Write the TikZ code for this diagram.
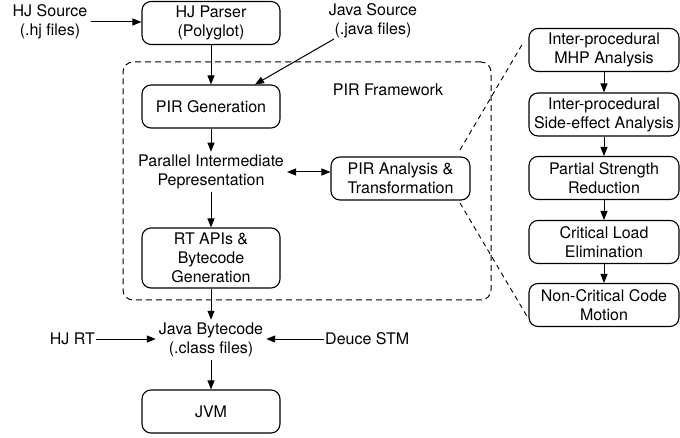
\documentclass[tikz,border=0pt]{standalone}
\usepackage{fontspec}
\setmainfont{TeX Gyre Heros}
\usetikzlibrary{arrows.meta}
\begin{document}
\begin{tikzpicture}[x=1pt,y=-1pt,
  every node/.style={font=\fontsize{16}{19}\selectfont, align=center, inner sep=3pt},
  box/.style={draw, line width=1.1pt, rounded corners=9pt, minimum width=138pt, minimum height=43pt, inner sep=2pt},
  rbox/.style={box, minimum width=150pt},
  arr/.style={-{Triangle[length=9pt,width=7pt]}, line width=1pt},
  darr/.style={{Triangle[length=9pt,width=7pt]}-{Triangle[length=9pt,width=7pt]}, line width=1pt},
  dsh/.style={dash pattern=on 6pt off 4pt, line width=1pt},
  dshthin/.style={dash pattern=on 5pt off 4pt, line width=0.9pt}
]
\useasboundingbox (0,0) rectangle (680,438);

% PIR framework dashed frame
\node[draw, dsh, rounded corners=10pt, minimum width=368pt, minimum height=238pt, inner sep=0pt] (frame) at (307,181) {};
\node (fwlabel) at (388,90) {PIR Framework};

% left column
\node (hjsrc) at (50,22) {HJ Source\\(.hj files)};
\node[box] (parser) at (211,23) {HJ Parser\\(Polyglot)};
\node (javasrc) at (373,21) {Java Source\\(.java files)};
\coordinate (jsend) at (334,39);
\node[box] (pirgen) at (211,106.5) {PIR Generation};
\node (pir) at (211,172) {Parallel Intermediate\\Pepresentation};
\node[box, minimum width=139pt] (analysis) at (400.5,178.5) {PIR Analysis \&\\Transformation};
\node[box, minimum height=60pt] (rtapi) at (211,258) {RT APIs \&\\Bytecode\\Generation};
\node (bytecode) at (211,340) {Java Bytecode\\(.class files)};
\node[inner sep=1pt, anchor=east] (hjrt) at (96,339) {HJ RT};
\node[inner sep=1pt, anchor=west] (deuce) at (324,339) {Deuce STM};
\node[box] (jvm) at (211,411.5) {JVM};

% right column
\node[rbox] (b1) at (604,50) {Inter-procedural\\MHP Analysis};
\node[rbox] (b2) at (604,114.5) {Inter-procedural\\Side-effect Analysis};
\node[rbox] (b3) at (604,178) {Partial Strength\\Reduction};
\node[rbox] (b4) at (604,242) {Critical Load\\Elimination};
\node[rbox] (b5) at (604,305) {Non-Critical Code\\Motion};

% zoom lines
\coordinate (za) at (460,150);
\coordinate (zb) at (523,43);
\coordinate (zc) at (460,203);
\coordinate (zd) at (528,318);
\draw[dshthin] (za) -- (zb);
\draw[dshthin] (zc) -- (zd);

% connectors
\draw[arr] (hjsrc.east) -- (hjsrc.east -| parser.west);
\draw[arr] (parser) -- (pirgen);
\draw[arr] (jsend) -- ([xshift=44pt]pirgen.north);
\draw[arr] (pirgen) -- (pir);
\draw[darr] (pir.east) -- (pir.east -| analysis.west);
\draw[arr] (pir) -- (rtapi);
\draw[arr] (rtapi) -- (bytecode);
\draw[arr] (hjrt.east) -- (hjrt.east -| bytecode.west);
\draw[arr] (deuce.west) -- (deuce.west -| bytecode.east);
\draw[arr] (bytecode) -- (jvm);
\draw[arr] (b1) -- (b2);
\draw[arr] (b2) -- (b3);
\draw[arr] (b3) -- (b4);
\draw[arr] (b4) -- (b5);
\end{tikzpicture}
\end{document}
